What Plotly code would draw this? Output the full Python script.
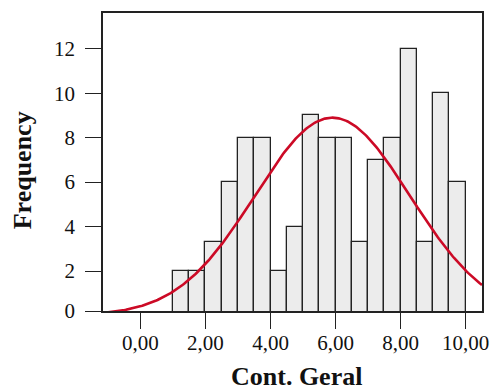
import numpy as np
import plotly.graph_objects as go

# Histogram bins (left edges, width 0.5) and frequencies
bin_left = [1.0, 1.5, 2.0, 2.5, 3.0, 3.5, 4.0, 4.5, 5.0, 5.5, 6.0, 6.5, 7.0, 7.5, 8.0, 8.5, 9.0, 9.5]
freq = [2, 2, 3.3, 6, 8, 8, 2, 4, 9, 8, 8, 3.3, 7, 8, 12, 3.3, 10, 6]
bin_width = 0.5

# Normal curve parameters (estimated)
curve_mean = 5.9
curve_sd = 2.38
curve_peak = 8.9

x_tick_vals = [0, 2, 4, 6, 8, 10]
x_tick_text = ["0,00", "2,00", "4,00", "6,00", "8,00", "10,00"]
y_tick_vals = [0.2, 2, 4, 6, 8, 10, 12]
y_tick_text = ["0", "2", "4", "6", "8", "10", "12"]

x_range = [-1.15, 10.5]
y_range = [0.2, 13.61]

centers = [b + bin_width / 2 for b in bin_left]
xc = np.linspace(x_range[0], x_range[1], 300)
yc = curve_peak * np.exp(-0.5 * ((xc - curve_mean) / curve_sd) ** 2)

font_family = "Liberation Serif, Times New Roman, serif"
edge = "#222222"

fig = go.Figure()
fig.add_trace(go.Bar(
    x=centers, y=freq, width=bin_width,
    marker=dict(color="#ececec", line=dict(color=edge, width=1.3)),
    showlegend=False, hoverinfo="skip",
))
fig.add_trace(go.Scatter(
    x=xc, y=yc, mode="lines",
    line=dict(color="#cc0a26", width=2.6),
    showlegend=False, hoverinfo="skip",
))

fig.update_layout(
    width=495, height=390,
    margin=dict(l=103, r=13, t=13, b=79),
    paper_bgcolor="white", plot_bgcolor="white",
    font=dict(family=font_family, size=21, color="#111111"),
    bargap=0,
    annotations=[
        dict(text="<b>Cont. Geral</b>", xref="paper", yref="paper",
             x=0.511, y=-0.219, xanchor="center", yanchor="middle",
             showarrow=False, font=dict(size=26, family=font_family, color="#111111")),
        dict(text="<b>Frequency</b>", xref="paper", yref="paper",
             x=-0.213, y=0.473, xanchor="center", yanchor="middle", textangle=-90,
             showarrow=False, font=dict(size=26, family=font_family, color="#111111")),
    ],
)
fig.update_xaxes(
    range=x_range, tickvals=x_tick_vals, ticktext=x_tick_text,
    showgrid=False, zeroline=False, automargin=False,
    showline=True, mirror=True, linecolor=edge, linewidth=1.5,
    ticks="outside", ticklen=16, tickwidth=1.3, tickcolor=edge,
    ticklabelstandoff=-4,
)
fig.update_yaxes(
    range=y_range, tickvals=y_tick_vals, ticktext=y_tick_text,
    showgrid=False, zeroline=False, automargin=False,
    showline=True, mirror=True, linecolor=edge, linewidth=1.5,
    ticks="outside", ticklen=16, tickwidth=1.3, tickcolor=edge,
    ticklabelstandoff=6,
)

fig.write_html("out.html", config={"displayModeBar": False},
               post_script="document.body.style.margin='0';")
